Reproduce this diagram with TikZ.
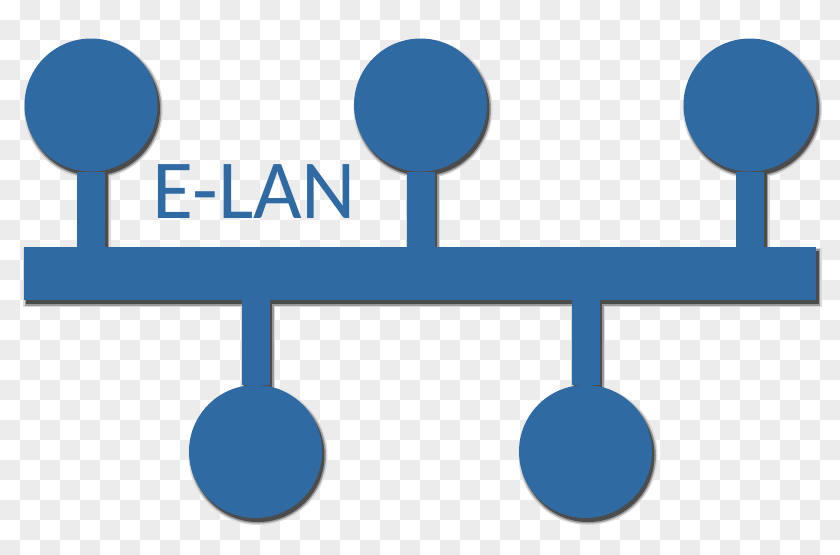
\documentclass[tikz,border=0pt]{standalone}
\usepackage{fontspec}
\setmainfont{Carlito}
\usetikzlibrary{backgrounds}

\definecolor{elanblue}{HTML}{2F6AA3}
\definecolor{checker}{HTML}{ECECEC}

% shadow of all shapes: colour, extra width in px
\newcommand{\elanshadow}[2]{%
	\foreach \n in {t1,t2,t3,b1,b2} {
		\fill[#1] (\n.center) circle[radius=66.5+#2];
		\draw[#1, line width=14pt+#2*1pt] (\n.center) -- (\n |- bus.center);
	}
	\fill[#1] ([shift={(-#2,-#2)}]bus.north west) rectangle ([shift={(#2,#2)}]bus.south east);
}

\begin{document}
\begin{tikzpicture}
	[x=0.5pt, y=-0.5pt,
	hub/.style={circle,fill=elanblue,inner sep=0pt,minimum size=66.5pt},
	busbar/.style={rectangle,fill=elanblue,inner sep=0pt,minimum width=396pt,minimum height=26.5pt},
	stem/.style={draw=elanblue,line width=14pt}]
	\useasboundingbox (0,0) rectangle (840,554);
	% bus and stations
	\node (bus) [busbar] at (420,273.5) {};
	\node (t1) [hub] at (91,105) {};
	\node (t2) [hub] at (420.5,105) {};
	\node (t3) [hub] at (750,105) {};
	\node (b1) [hub] at (255.5,451.5) {};
	\node (b2) [hub] at (585.5,451.5) {};
	\draw [stem] (t1) -- (t1 |- bus.center);
	\draw [stem] (t2) -- (t2 |- bus.center);
	\draw [stem] (t3) -- (t3 |- bus.center);
	\draw [stem] (b1) -- (b1 |- bus.center);
	\draw [stem] (b2) -- (b2 |- bus.center);
	\node (elan) [anchor=base west,inner sep=0pt,text=elanblue,font=\fontsize{42}{42}\selectfont] at (152,218) {E-LAN};
	\begin{scope}[on background layer]
		\foreach \i in {0,2,...,40}
			\foreach \j in {1,3,...,27}
				\fill[checker] (\i*20,\j*20) rectangle +(20,20);
		\foreach \i in {1,3,...,41}
			\foreach \j in {0,2,...,26}
				\fill[checker] (\i*20,\j*20) rectangle +(20,20);
		\begin{scope}[transform canvas={shift={(1.25pt,-2pt)}}]
			\elanshadow{black!15}{3}
			\elanshadow{black!40}{1.5}
			\elanshadow{black!70}{0}
		\end{scope}
	\end{scope}
\end{tikzpicture}
\end{document}
